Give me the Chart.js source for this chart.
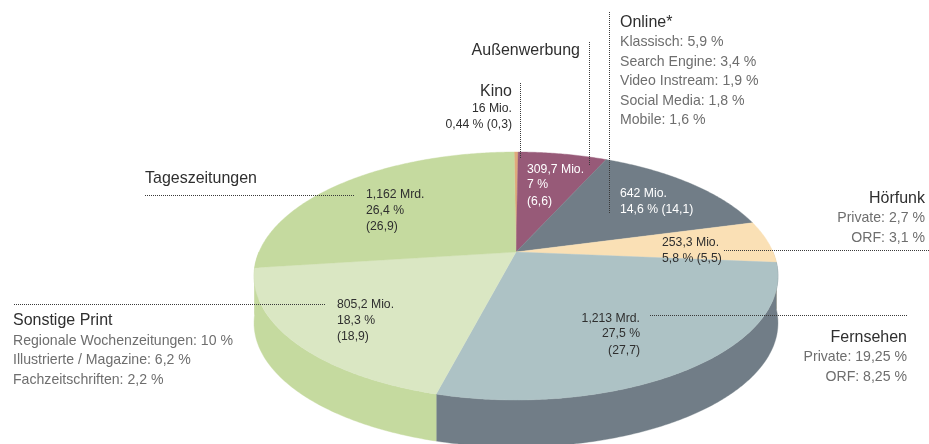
<!DOCTYPE html>
<html><head><meta charset="utf-8">
<style>html,body{margin:0;padding:0;background:#fff}canvas{display:block}</style>
<script src="https://cdn.jsdelivr.net/npm/chart.js@4"></script>
</head><body><canvas id="c" width="929" height="444"></canvas>
<script>
// Data: slice sizes as drawn in the picture (the bracketed shares)
const categories = ["Kino","Außenwerbung","Online*","Hörfunk","Fernsehen","Sonstige Print","Tageszeitungen"];
const sliceValues = [0.3,6.6,14.1,5.5,27.7,18.9,26.9];
const topColors  = ["#dfaa7c","#975a78","#717d87","#fae0b5","#adc2c5","#dae7c3","#c5da9f"];
const sideColors = ["#c49068","#7d4a63","#717d87","#d9c29c","#717d87","#c5da9f","#c5da9f"];

const kinoText = ["16 Mio.","0,44 % (0,3)"];
const aussenText = ["309,7 Mio.","7 %","(6,6)"];
const onlineText = ["642 Mio.","14,6 % (14,1)"];
const hoerfunkText = ["253,3 Mio.","5,8 % (5,5)"];
const fernsehenText = ["1,213 Mrd.","27,5 %","(27,7)"];
const sonstigeText = ["805,2 Mio.","18,3 %","(18,9)"];
const tagesText = ["1,162 Mrd.","26,4 %","(26,9)"];
const onlineParts = ["Klassisch: 5,9 %","Search Engine: 3,4 %","Video Instream: 1,9 %","Social Media: 1,8 %","Mobile: 1,6 %"];
const hoerfunkParts = ["Private: 2,7 %","ORF: 3,1 %"];
const fernsehenParts = ["Private: 19,25 %","ORF: 8,25 %"];
const sonstigeParts = ["Regionale Wochenzeitungen: 10 %","Illustrierte / Magazine: 6,2 %","Fachzeitschriften: 2,2 %"];

// Perspective projection of the pie disc
const view = {cx:516, cy:252, R:257, S:119.35, k:0.1935, depth:47};
function project(a, extra){
  const u=Math.cos(a), f=Math.sin(a), w=1-view.k*f;
  return [view.cx+view.R*u/w, view.cy+view.S*f/w+(extra||0)];
}
function rim(ctx,a0,a1,extra,first){
  const n=Math.max(2,Math.ceil(Math.abs(a1-a0)/0.01));
  for(let i=0;i<=n;i++){
    const p=project(a0+(a1-a0)*i/n,extra);
    if(first&&i===0)ctx.moveTo(p[0],p[1]);else ctx.lineTo(p[0],p[1]);
  }
}
const FONT='"Liberation Sans",sans-serif';
const DARK="#2f2f2f", GREY="#6e6e6e", WHITE="#ffffff";
const SQUEEZE=0.94;

function text(ctx,str,x,y,size,color,align){
  ctx.save();
  ctx.translate(x,y);ctx.scale(SQUEEZE,1);
  ctx.font=size+"px "+FONT;
  ctx.fillStyle=color;ctx.textAlign=align||"left";ctx.textBaseline="alphabetic";
  ctx.fillText(str,0,0);
  ctx.restore();
}
function lines(ctx,arr,x,ys,size,color,align){arr.forEach((s,i)=>text(ctx,s,x,ys[i],size,color,align));}
function leader(ctx,x0,y0,x1,y1){
  ctx.save();ctx.strokeStyle="#3a3a3a";ctx.lineWidth=1;ctx.setLineDash([1,1]);
  ctx.beginPath();ctx.moveTo(x0,y0);ctx.lineTo(x1,y1);ctx.stroke();ctx.restore();
}

const pie3d={id:"pie3d",
  beforeDatasetsDraw(chart){
    const ctx=chart.ctx, arcs=chart.getDatasetMeta(0).data;
    const TWO=Math.PI*2;
    arcs.forEach((arc,i)=>{
      for(const shift of [0,TWO,-TWO]){
        const a0=Math.max(arc.startAngle+shift,0), a1=Math.min(arc.endAngle+shift,Math.PI);
        if(a1<=a0)continue;
        ctx.beginPath();
        rim(ctx,a0,a1,0,true);
        rim(ctx,a1,a0,view.depth,false);
        ctx.closePath();
        ctx.fillStyle=sideColors[i];ctx.strokeStyle=sideColors[i];ctx.lineWidth=0.4;
        ctx.fill();ctx.stroke();
      }
    });
    arcs.forEach((arc,i)=>{
      ctx.beginPath();ctx.moveTo(view.cx,view.cy);
      rim(ctx,arc.startAngle,arc.endAngle,0,false);
      ctx.closePath();
      ctx.fillStyle=topColors[i];ctx.strokeStyle=topColors[i];ctx.lineWidth=0.4;
      ctx.fill();ctx.stroke();
    });
    return false;
  },
  afterDraw(chart){
    const ctx=chart.ctx;
    leader(ctx,520.5,83,520.5,158);
    leader(ctx,589.5,42,589.5,165);
    leader(ctx,609.5,12,609.5,214);
    leader(ctx,724,250.5,929,250.5);
    leader(ctx,650,315.5,908,315.5);
    leader(ctx,145,195.5,355,195.5);
    leader(ctx,14,304.5,326,304.5);

    text(ctx,categories[2],620,27,17,DARK);
    lines(ctx,onlineParts,620,[46,66,85,105,124],15,GREY);
    text(ctx,categories[1],580,55,17,DARK,"right");
    text(ctx,categories[0],512,96,17,DARK,"right");
    lines(ctx,kinoText,512,[112,128],13,DARK,"right");
    lines(ctx,aussenText,527,[173,188,205],13,WHITE);
    lines(ctx,onlineText,620,[197,213],13,WHITE);
    lines(ctx,hoerfunkText,662,[246,262],13,DARK);
    text(ctx,categories[3],925,203,17,DARK,"right");
    lines(ctx,hoerfunkParts,925,[222,242],15,GREY,"right");
    text(ctx,categories[4],907,342,17,DARK,"right");
    lines(ctx,fernsehenParts,907,[361,381],15,GREY,"right");
    lines(ctx,fernsehenText,640,[322,337,354],13,DARK,"right");
    text(ctx,categories[6],145,183,17,DARK);
    lines(ctx,tagesText,366,[198,214,230],13,DARK);
    text(ctx,categories[5],13,325,17,DARK);
    lines(ctx,sonstigeParts,13,[345,364,384],15,GREY);
    lines(ctx,sonstigeText,337,[308,324,340],13,DARK);
  }
};

new Chart(document.getElementById("c"),{
  type:"pie",
  data:{labels:categories,datasets:[{data:sliceValues,backgroundColor:topColors,borderWidth:0}]},
  options:{responsive:false,animation:false,rotation:-0.5,
    plugins:{legend:{display:false},tooltip:{enabled:false},title:{display:false}}},
  plugins:[pie3d]
});
</script></body></html>
